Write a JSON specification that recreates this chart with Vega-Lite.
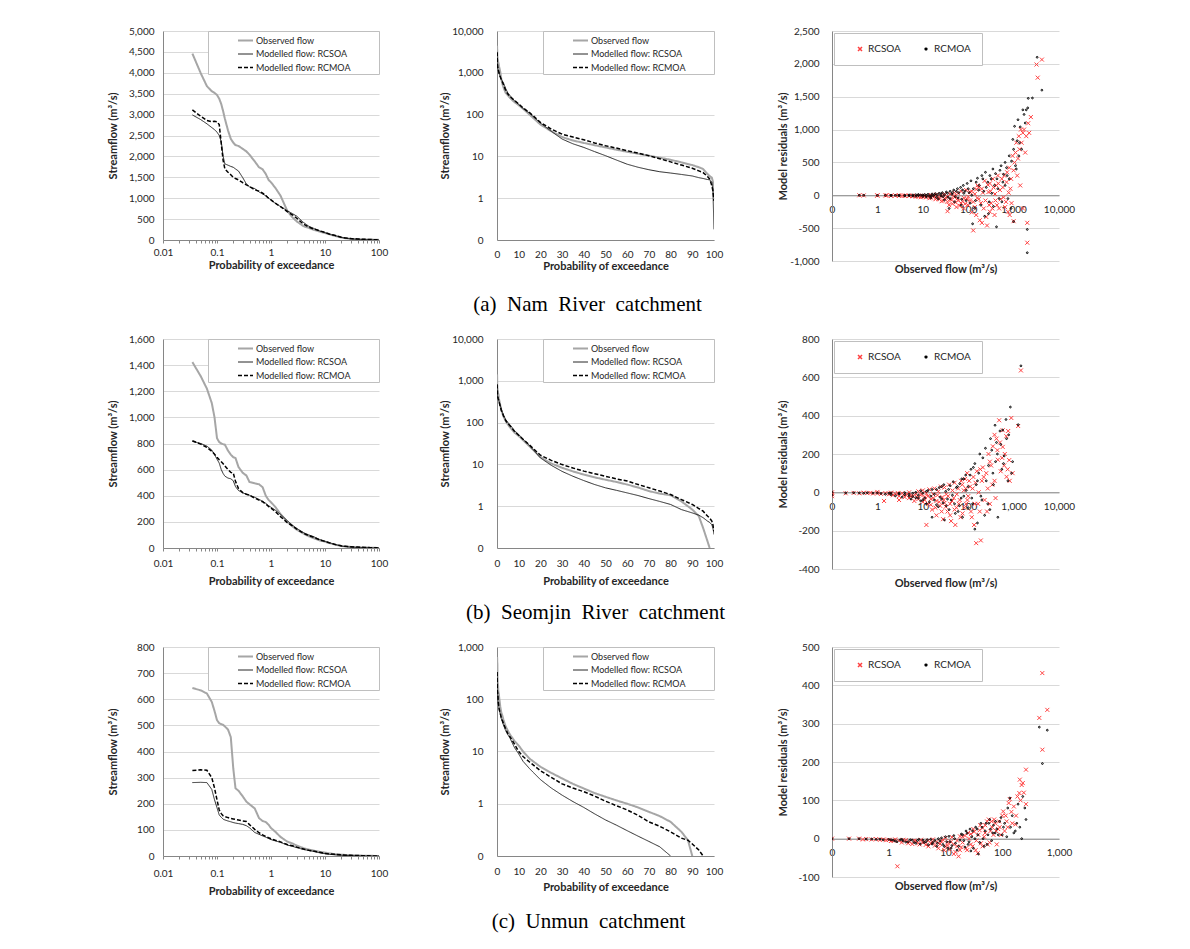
{
"$schema":"https://vega.github.io/schema/vega-lite/v6.json",
"padding":{"left":107,"top":26,"right":10,"bottom":10},
"background":"#ffffff",
"columns":3,
"spacing":{"row":78,"column":118},
"bounds":"flush",
"align":"each",
"resolve":{"scale":{"color":"independent","strokeDash":"independent","strokeWidth":"independent","shape":"independent","size":"independent"},"legend":{"color":"independent","strokeDash":"independent","strokeWidth":"independent","shape":"independent","size":"independent"}},
"datasets":{
"fdcA":[
{"p":0.035,"obs":4460,"rcsoa":2992,"rcmoa":3111},{"p":0.05,"obs":3990,"rcsoa":2880,"rcmoa":2960},{"p":0.065,"obs":3680,"rcsoa":2780,"rcmoa":2860},{"p":0.08,"obs":3560,"rcsoa":2690,"rcmoa":2830},{"p":0.09,"obs":3520,"rcsoa":2640,"rcmoa":2840},{"p":0.1,"obs":3470,"rcsoa":2580,"rcmoa":2830},{"p":0.11,"obs":3380,"rcsoa":2500,"rcmoa":2760},{"p":0.12,"obs":3250,"rcsoa":2350,"rcmoa":2300},{"p":0.13,"obs":3080,"rcsoa":2000,"rcmoa":1900},{"p":0.14,"obs":2900,"rcsoa":1820,"rcmoa":1700},{"p":0.16,"obs":2620,"rcsoa":1790,"rcmoa":1620},{"p":0.18,"obs":2420,"rcsoa":1760,"rcmoa":1560},{"p":0.2,"obs":2330,"rcsoa":1740,"rcmoa":1500},{"p":0.22,"obs":2270,"rcsoa":1700,"rcmoa":1470},{"p":0.25,"obs":2250,"rcsoa":1650,"rcmoa":1440},{"p":0.3,"obs":2180,"rcsoa":1490,"rcmoa":1370},{"p":0.35,"obs":2120,"rcsoa":1340,"rcmoa":1320},{"p":0.4,"obs":2040,"rcsoa":1270,"rcmoa":1280},{"p":0.5,"obs":1880,"rcsoa":1230,"rcmoa":1200},{"p":0.6,"obs":1740,"rcsoa":1150,"rcmoa":1170},{"p":0.7,"obs":1690,"rcsoa":1100,"rcmoa":1120},{"p":0.8,"obs":1580,"rcsoa":1060,"rcmoa":1060},{"p":0.9,"obs":1440,"rcsoa":1010,"rcmoa":1000},{"p":1,"obs":1380,"rcsoa":950,"rcmoa":960},{"p":1.2,"obs":1250,"rcsoa":880,"rcmoa":880},{"p":1.5,"obs":1060,"rcsoa":800,"rcmoa":800},{"p":2,"obs":700,"rcsoa":700,"rcmoa":680},{"p":2.5,"obs":540,"rcsoa":630,"rcmoa":600},{"p":3,"obs":445,"rcsoa":570,"rcmoa":520},{"p":4,"obs":330,"rcsoa":420,"rcmoa":380},{"p":5,"obs":290,"rcsoa":330,"rcmoa":310},{"p":6,"obs":250,"rcsoa":285,"rcmoa":270},{"p":8,"obs":200,"rcsoa":215,"rcmoa":220},{"p":10,"obs":168,"rcsoa":175,"rcmoa":180},{"p":12,"obs":138,"rcsoa":140,"rcmoa":145},{"p":15,"obs":100,"rcsoa":108,"rcmoa":112},{"p":20,"obs":58,"rcsoa":63,"rcmoa":65},{"p":25,"obs":40,"rcsoa":40,"rcmoa":45},{"p":30,"obs":29,"rcsoa":26,"rcmoa":34},{"p":35,"obs":24,"rcsoa":20,"rcmoa":29},{"p":40,"obs":21,"rcsoa":16.4,"rcmoa":25},{"p":45,"obs":18.5,"rcsoa":13,"rcmoa":21},{"p":50,"obs":16.4,"rcsoa":10.4,"rcmoa":18},{"p":55,"obs":14.5,"rcsoa":8.2,"rcmoa":15.8},{"p":60,"obs":12.9,"rcsoa":6.5,"rcmoa":13.7},{"p":65,"obs":11.6,"rcsoa":5.5,"rcmoa":12},{"p":70,"obs":10.4,"rcsoa":4.8,"rcmoa":10.4},{"p":75,"obs":9.3,"rcsoa":4.3,"rcmoa":8.8},{"p":80,"obs":8.3,"rcsoa":4.0,"rcmoa":7.4},{"p":85,"obs":7.2,"rcsoa":3.7,"rcmoa":6.2},{"p":90,"obs":6.2,"rcsoa":3.4,"rcmoa":5.2},{"p":93,"obs":5.5,"rcsoa":3.1,"rcmoa":4.5},{"p":95,"obs":5.0,"rcsoa":2.96,"rcmoa":4.1},{"p":97,"obs":3.8,"rcsoa":2.8,"rcmoa":3.3},{"p":98,"obs":3.4,"rcsoa":2.75,"rcmoa":2.9},{"p":99,"obs":3.1,"rcsoa":2.4,"rcmoa":2.0},{"p":99.5,"obs":2.5,"rcsoa":1.6,"rcmoa":1.5},{"p":100,"obs":1.0,"rcsoa":0.18,"rcmoa":0.86}
],
"fdcB":[
{"p":0.035,"obs":1423,"rcsoa":816,"rcmoa":821},{"p":0.05,"obs":1315,"rcsoa":800,"rcmoa":795},{"p":0.065,"obs":1220,"rcsoa":780,"rcmoa":770},{"p":0.08,"obs":1110,"rcsoa":750,"rcmoa":740},{"p":0.09,"obs":1000,"rcsoa":715,"rcmoa":718},{"p":0.1,"obs":840,"rcsoa":680,"rcmoa":695},{"p":0.11,"obs":811,"rcsoa":650,"rcmoa":676},{"p":0.12,"obs":800,"rcsoa":600,"rcmoa":660},{"p":0.13,"obs":795,"rcsoa":570,"rcmoa":645},{"p":0.14,"obs":791,"rcsoa":550,"rcmoa":628},{"p":0.16,"obs":745,"rcsoa":535,"rcmoa":600},{"p":0.18,"obs":715,"rcsoa":530,"rcmoa":579},{"p":0.2,"obs":695,"rcsoa":515,"rcmoa":574},{"p":0.22,"obs":689,"rcsoa":470,"rcmoa":510},{"p":0.25,"obs":620,"rcsoa":440,"rcmoa":455},{"p":0.3,"obs":575,"rcsoa":422,"rcmoa":424},{"p":0.35,"obs":555,"rcsoa":412,"rcmoa":412},{"p":0.4,"obs":505,"rcsoa":404,"rcmoa":404},{"p":0.5,"obs":495,"rcsoa":388,"rcmoa":382},{"p":0.6,"obs":488,"rcsoa":372,"rcmoa":366},{"p":0.7,"obs":465,"rcsoa":358,"rcmoa":354},{"p":0.8,"obs":400,"rcsoa":342,"rcmoa":336},{"p":0.9,"obs":368,"rcsoa":325,"rcmoa":318},{"p":1,"obs":350,"rcsoa":312,"rcmoa":305},{"p":1.2,"obs":315,"rcsoa":290,"rcmoa":280},{"p":1.5,"obs":260,"rcsoa":258,"rcmoa":240},{"p":2,"obs":200,"rcsoa":210,"rcmoa":195},{"p":2.5,"obs":165,"rcsoa":175,"rcmoa":170},{"p":3,"obs":140,"rcsoa":150,"rcmoa":145},{"p":4,"obs":110,"rcsoa":118,"rcmoa":112},{"p":5,"obs":90,"rcsoa":100,"rcmoa":95},{"p":6,"obs":77,"rcsoa":89,"rcmoa":84},{"p":8,"obs":58,"rcsoa":65,"rcmoa":62},{"p":10,"obs":48,"rcsoa":52,"rcmoa":50},{"p":12,"obs":38,"rcsoa":40,"rcmoa":40},{"p":15,"obs":27,"rcsoa":28,"rcmoa":29},{"p":20,"obs":15,"rcsoa":14.3,"rcmoa":16.6},{"p":25,"obs":10.5,"rcsoa":9.5,"rcmoa":12.5},{"p":30,"obs":8.3,"rcsoa":6.8,"rcmoa":9.9},{"p":35,"obs":6.8,"rcsoa":5.2,"rcmoa":8.2},{"p":40,"obs":5.7,"rcsoa":4.1,"rcmoa":6.9},{"p":45,"obs":4.9,"rcsoa":3.3,"rcmoa":6.0},{"p":50,"obs":4.3,"rcsoa":2.75,"rcmoa":5.2},{"p":55,"obs":3.8,"rcsoa":2.4,"rcmoa":4.5},{"p":60,"obs":3.3,"rcsoa":2.08,"rcmoa":4.0},{"p":65,"obs":2.8,"rcsoa":1.8,"rcmoa":3.3},{"p":70,"obs":2.3,"rcsoa":1.52,"rcmoa":2.75},{"p":75,"obs":2.0,"rcsoa":1.3,"rcmoa":2.3},{"p":80,"obs":1.83,"rcsoa":1.1,"rcmoa":1.9},{"p":85,"obs":1.3,"rcsoa":0.83,"rcmoa":1.44},{"p":90,"obs":0.83,"rcsoa":0.69,"rcmoa":1.1},{"p":93,"obs":0.58,"rcsoa":0.61,"rcmoa":0.88},{"p":95,"obs":0.3,"rcsoa":0.53,"rcmoa":0.76},{"p":97,"obs":0.145,"rcsoa":0.44,"rcmoa":0.58},{"p":98,"obs":0.1,"rcsoa":0.41,"rcmoa":0.52},{"p":99,"obs":0,"rcsoa":0.36,"rcmoa":0.44},{"p":99.5,"obs":0,"rcsoa":0.3,"rcmoa":0.36},{"p":100,"obs":0,"rcsoa":0.21,"rcmoa":0.25}
],
"fdcC":[
{"p":0.035,"obs":643,"rcsoa":281,"rcmoa":327},{"p":0.05,"obs":634,"rcsoa":282,"rcmoa":330},{"p":0.065,"obs":622,"rcsoa":281,"rcmoa":328},{"p":0.08,"obs":590,"rcsoa":255,"rcmoa":300},{"p":0.09,"obs":555,"rcsoa":215,"rcmoa":260},{"p":0.1,"obs":520,"rcsoa":185,"rcmoa":215},{"p":0.11,"obs":508,"rcsoa":157,"rcmoa":176},{"p":0.12,"obs":505,"rcsoa":148,"rcmoa":162},{"p":0.13,"obs":502,"rcsoa":141,"rcmoa":154},{"p":0.14,"obs":496,"rcsoa":138,"rcmoa":151},{"p":0.16,"obs":484,"rcsoa":134,"rcmoa":147},{"p":0.18,"obs":455,"rcsoa":131,"rcmoa":144},{"p":0.2,"obs":336,"rcsoa":128,"rcmoa":142},{"p":0.22,"obs":259,"rcsoa":126,"rcmoa":140},{"p":0.25,"obs":250,"rcsoa":124,"rcmoa":138},{"p":0.3,"obs":228,"rcsoa":121,"rcmoa":134},{"p":0.35,"obs":208,"rcsoa":116,"rcmoa":132},{"p":0.4,"obs":198,"rcsoa":108,"rcmoa":120},{"p":0.5,"obs":182,"rcsoa":90,"rcmoa":102},{"p":0.6,"obs":145,"rcsoa":83,"rcmoa":89},{"p":0.7,"obs":134,"rcsoa":77,"rcmoa":81},{"p":0.8,"obs":130,"rcsoa":72,"rcmoa":75},{"p":0.9,"obs":120,"rcsoa":67,"rcmoa":70},{"p":1,"obs":107,"rcsoa":63,"rcmoa":66},{"p":1.2,"obs":93,"rcsoa":58,"rcmoa":60},{"p":1.5,"obs":73,"rcsoa":52,"rcmoa":54},{"p":2,"obs":55,"rcsoa":42,"rcmoa":44},{"p":2.5,"obs":48,"rcsoa":37,"rcmoa":39},{"p":3,"obs":40,"rcsoa":32,"rcmoa":34},{"p":4,"obs":30,"rcsoa":25,"rcmoa":27},{"p":5,"obs":25,"rcsoa":21,"rcmoa":22},{"p":6,"obs":21,"rcsoa":18,"rcmoa":19},{"p":8,"obs":16,"rcsoa":12,"rcmoa":14},{"p":10,"obs":13,"rcsoa":9,"rcmoa":10},{"p":12,"obs":10,"rcsoa":6.5,"rcmoa":8},{"p":15,"obs":7.3,"rcsoa":4.7,"rcmoa":6.3},{"p":20,"obs":5.1,"rcsoa":2.9,"rcmoa":4.3},{"p":25,"obs":3.9,"rcsoa":2.0,"rcmoa":3.2},{"p":30,"obs":3.05,"rcsoa":1.46,"rcmoa":2.4},{"p":35,"obs":2.4,"rcsoa":1.1,"rcmoa":2.0},{"p":40,"obs":1.96,"rcsoa":0.85,"rcmoa":1.7},{"p":45,"obs":1.6,"rcsoa":0.64,"rcmoa":1.4},{"p":50,"obs":1.36,"rcsoa":0.49,"rcmoa":1.12},{"p":55,"obs":1.16,"rcsoa":0.39,"rcmoa":0.92},{"p":60,"obs":1.0,"rcsoa":0.305,"rcmoa":0.76},{"p":65,"obs":0.85,"rcsoa":0.24,"rcmoa":0.6},{"p":70,"obs":0.7,"rcsoa":0.19,"rcmoa":0.45},{"p":75,"obs":0.58,"rcsoa":0.15,"rcmoa":0.37},{"p":80,"obs":0.45,"rcsoa":0.1,"rcmoa":0.29},{"p":85,"obs":0.29,"rcsoa":0,"rcmoa":0.22},{"p":88,"obs":0.2,"rcsoa":0,"rcmoa":0.2},{"p":90,"obs":0.1,"rcsoa":0,"rcmoa":0.17},{"p":93,"obs":0,"rcsoa":0,"rcmoa":0.13},{"p":95,"obs":0,"rcsoa":0,"rcmoa":0.1},{"p":97,"obs":0,"rcsoa":0,"rcmoa":0},{"p":98,"obs":0,"rcsoa":0,"rcmoa":0},{"p":99,"obs":0,"rcsoa":0,"rcmoa":0},{"p":99.5,"obs":0,"rcsoa":0,"rcmoa":0},{"p":100,"obs":0,"rcsoa":0,"rcmoa":0}
],
"resA":[
{"obs":0.4,"res":0,"model":"RCSOA"},{"obs":0.5,"res":-2,"model":"RCSOA"},{"obs":1,"res":0,"model":"RCSOA"},{"obs":1,"res":-5,"model":"RCSOA"},{"obs":1.5,"res":-3,"model":"RCSOA"},{"obs":1.6,"res":0,"model":"RCSOA"},{"obs":2,"res":-5,"model":"RCSOA"},{"obs":2.5,"res":-3,"model":"RCSOA"},{"obs":3,"res":-8,"model":"RCSOA"},{"obs":3.5,"res":-5,"model":"RCSOA"},{"obs":4,"res":-10,"model":"RCSOA"},{"obs":5,"res":-12,"model":"RCSOA"},{"obs":5,"res":-3,"model":"RCSOA"},{"obs":6,"res":-15,"model":"RCSOA"},{"obs":7,"res":-8,"model":"RCSOA"},{"obs":8,"res":-20,"model":"RCSOA"},{"obs":9,"res":-10,"model":"RCSOA"},{"obs":10,"res":-25,"model":"RCSOA"},{"obs":10,"res":-5,"model":"RCSOA"},{"obs":12,"res":-30,"model":"RCSOA"},{"obs":13,"res":-10,"model":"RCSOA"},{"obs":15,"res":-35,"model":"RCSOA"},{"obs":15,"res":5,"model":"RCSOA"},{"obs":18,"res":-20,"model":"RCSOA"},{"obs":20,"res":-45,"model":"RCSOA"},{"obs":20,"res":10,"model":"RCSOA"},{"obs":23,"res":-60,"model":"RCSOA"},{"obs":25,"res":-15,"model":"RCSOA"},{"obs":28,"res":-80,"model":"RCSOA"},{"obs":30,"res":15,"model":"RCSOA"},{"obs":32,"res":-40,"model":"RCSOA"},{"obs":35,"res":-242,"model":"RCSOA"},{"obs":35,"res":-100,"model":"RCSOA"},{"obs":40,"res":-60,"model":"RCSOA"},{"obs":40,"res":20,"model":"RCSOA"},{"obs":45,"res":-130,"model":"RCSOA"},{"obs":50,"res":-30,"model":"RCSOA"},{"obs":50,"res":40,"model":"RCSOA"},{"obs":55,"res":-180,"model":"RCSOA"},{"obs":60,"res":-80,"model":"RCSOA"},{"obs":60,"res":30,"model":"RCSOA"},{"obs":70,"res":-120,"model":"RCSOA"},{"obs":70,"res":60,"model":"RCSOA"},{"obs":80,"res":-40,"model":"RCSOA"},{"obs":80,"res":-200,"model":"RCSOA"},{"obs":90,"res":80,"model":"RCSOA"},{"obs":100,"res":-150,"model":"RCSOA"},{"obs":100,"res":-20,"model":"RCSOA"},{"obs":110,"res":50,"model":"RCSOA"},{"obs":120,"res":-260,"model":"RCSOA"},{"obs":129,"res":-535,"model":"RCSOA"},{"obs":130,"res":-100,"model":"RCSOA"},{"obs":140,"res":20,"model":"RCSOA"},{"obs":150,"res":-300,"model":"RCSOA"},{"obs":160,"res":150,"model":"RCSOA"},{"obs":170,"res":-60,"model":"RCSOA"},{"obs":180,"res":-380,"model":"RCSOA"},{"obs":200,"res":-420,"model":"RCSOA"},{"obs":200,"res":100,"model":"RCSOA"},{"obs":220,"res":-200,"model":"RCSOA"},{"obs":230,"res":220,"model":"RCSOA"},{"obs":250,"res":-330,"model":"RCSOA"},{"obs":260,"res":-460,"model":"RCSOA"},{"obs":280,"res":50,"model":"RCSOA"},{"obs":300,"res":-250,"model":"RCSOA"},{"obs":300,"res":180,"model":"RCSOA"},{"obs":320,"res":-120,"model":"RCSOA"},{"obs":350,"res":250,"model":"RCSOA"},{"obs":380,"res":-300,"model":"RCSOA"},{"obs":400,"res":-80,"model":"RCSOA"},{"obs":420,"res":150,"model":"RCSOA"},{"obs":450,"res":300,"model":"RCSOA"},{"obs":480,"res":-200,"model":"RCSOA"},{"obs":500,"res":80,"model":"RCSOA"},{"obs":550,"res":250,"model":"RCSOA"},{"obs":600,"res":-30,"model":"RCSOA"},{"obs":650,"res":-180,"model":"RCSOA"},{"obs":700,"res":200,"model":"RCSOA"},{"obs":750,"res":-250,"model":"RCSOA"},{"obs":800,"res":420,"model":"RCSOA"},{"obs":850,"res":100,"model":"RCSOA"},{"obs":900,"res":-120,"model":"RCSOA"},{"obs":1000,"res":-394,"model":"RCSOA"},{"obs":1000,"res":380,"model":"RCSOA"},{"obs":1100,"res":650,"model":"RCSOA"},{"obs":1200,"res":300,"model":"RCSOA"},{"obs":1250,"res":560,"model":"RCSOA"},{"obs":1300,"res":900,"model":"RCSOA"},{"obs":1400,"res":150,"model":"RCSOA"},{"obs":1500,"res":800,"model":"RCSOA"},{"obs":1600,"res":-200,"model":"RCSOA"},{"obs":1700,"res":1000,"model":"RCSOA"},{"obs":1800,"res":650,"model":"RCSOA"},{"obs":1900,"res":900,"model":"RCSOA"},{"obs":2000,"res":-722,"model":"RCSOA"},{"obs":2000,"res":-419,"model":"RCSOA"},{"obs":2100,"res":1096,"model":"RCSOA"},{"obs":2200,"res":950,"model":"RCSOA"},{"obs":2400,"res":1190,"model":"RCSOA"},{"obs":3200,"res":1990,"model":"RCSOA"},{"obs":3400,"res":1790,"model":"RCSOA"},{"obs":4200,"res":2065,"model":"RCSOA"},
{"obs":2,"res":-8,"model":"RCSOA"},{"obs":3,"res":-2,"model":"RCSOA"},{"obs":4,"res":-4,"model":"RCSOA"},{"obs":6,"res":-6,"model":"RCSOA"},{"obs":7,"res":-20,"model":"RCSOA"},{"obs":9,"res":-30,"model":"RCSOA"},{"obs":11,"res":-15,"model":"RCSOA"},{"obs":14,"res":-45,"model":"RCSOA"},{"obs":17,"res":-10,"model":"RCSOA"},{"obs":19,"res":-60,"model":"RCSOA"},{"obs":22,"res":-25,"model":"RCSOA"},{"obs":26,"res":-90,"model":"RCSOA"},{"obs":30,"res":-50,"model":"RCSOA"},{"obs":34,"res":-20,"model":"RCSOA"},{"obs":38,"res":-150,"model":"RCSOA"},{"obs":43,"res":-70,"model":"RCSOA"},{"obs":48,"res":-10,"model":"RCSOA"},{"obs":53,"res":-110,"model":"RCSOA"},{"obs":58,"res":-50,"model":"RCSOA"},{"obs":65,"res":-160,"model":"RCSOA"},{"obs":75,"res":-90,"model":"RCSOA"},{"obs":85,"res":-130,"model":"RCSOA"},{"obs":95,"res":-60,"model":"RCSOA"},{"obs":110,"res":-80,"model":"RCSOA"},{"obs":120,"res":60,"model":"RCSOA"},{"obs":140,"res":-180,"model":"RCSOA"},{"obs":150,"res":90,"model":"RCSOA"},{"obs":160,"res":-40,"model":"RCSOA"},{"obs":170,"res":120,"model":"RCSOA"},{"obs":190,"res":-120,"model":"RCSOA"},{"obs":210,"res":40,"model":"RCSOA"},{"obs":240,"res":-80,"model":"RCSOA"},{"obs":270,"res":160,"model":"RCSOA"},{"obs":290,"res":-150,"model":"RCSOA"},{"obs":310,"res":60,"model":"RCSOA"},{"obs":340,"res":-200,"model":"RCSOA"},{"obs":360,"res":120,"model":"RCSOA"},{"obs":390,"res":20,"model":"RCSOA"},{"obs":430,"res":-150,"model":"RCSOA"},{"obs":460,"res":180,"model":"RCSOA"},{"obs":520,"res":-60,"model":"RCSOA"},{"obs":580,"res":120,"model":"RCSOA"},{"obs":620,"res":300,"model":"RCSOA"},{"obs":680,"res":-100,"model":"RCSOA"},{"obs":720,"res":350,"model":"RCSOA"},{"obs":780,"res":40,"model":"RCSOA"},{"obs":820,"res":-300,"model":"RCSOA"},{"obs":880,"res":250,"model":"RCSOA"},{"obs":950,"res":600,"model":"RCSOA"},{"obs":1050,"res":500,"model":"RCSOA"},{"obs":1150,"res":800,"model":"RCSOA"},{"obs":1350,"res":700,"model":"RCSOA"},{"obs":1450,"res":1000,"model":"RCSOA"},{"obs":1600,"res":950,"model":"RCSOA"},
{"obs":0.4,"res":0,"model":"RCMOA"},{"obs":0.5,"res":0,"model":"RCMOA"},{"obs":1,"res":-2,"model":"RCMOA"},{"obs":1.5,"res":0,"model":"RCMOA"},{"obs":2,"res":-3,"model":"RCMOA"},{"obs":2.5,"res":-1,"model":"RCMOA"},{"obs":3,"res":-5,"model":"RCMOA"},{"obs":4,"res":-8,"model":"RCMOA"},{"obs":5,"res":-5,"model":"RCMOA"},{"obs":6,"res":-10,"model":"RCMOA"},{"obs":7,"res":-15,"model":"RCMOA"},{"obs":8,"res":-5,"model":"RCMOA"},{"obs":10,"res":-18,"model":"RCMOA"},{"obs":10,"res":5,"model":"RCMOA"},{"obs":12,"res":-25,"model":"RCMOA"},{"obs":15,"res":-10,"model":"RCMOA"},{"obs":15,"res":-40,"model":"RCMOA"},{"obs":18,"res":10,"model":"RCMOA"},{"obs":20,"res":-30,"model":"RCMOA"},{"obs":22,"res":-55,"model":"RCMOA"},{"obs":25,"res":20,"model":"RCMOA"},{"obs":28,"res":-20,"model":"RCMOA"},{"obs":30,"res":-70,"model":"RCMOA"},{"obs":35,"res":30,"model":"RCMOA"},{"obs":38,"res":-200,"model":"RCMOA"},{"obs":40,"res":-50,"model":"RCMOA"},{"obs":45,"res":40,"model":"RCMOA"},{"obs":50,"res":-100,"model":"RCMOA"},{"obs":55,"res":60,"model":"RCMOA"},{"obs":60,"res":-40,"model":"RCMOA"},{"obs":70,"res":-150,"model":"RCMOA"},{"obs":75,"res":80,"model":"RCMOA"},{"obs":80,"res":30,"model":"RCMOA"},{"obs":90,"res":-80,"model":"RCMOA"},{"obs":100,"res":100,"model":"RCMOA"},{"obs":110,"res":-120,"model":"RCMOA"},{"obs":120,"res":0,"model":"RCMOA"},{"obs":125,"res":-434,"model":"RCMOA"},{"obs":140,"res":-200,"model":"RCMOA"},{"obs":150,"res":200,"model":"RCMOA"},{"obs":170,"res":80,"model":"RCMOA"},{"obs":190,"res":-150,"model":"RCMOA"},{"obs":210,"res":250,"model":"RCMOA"},{"obs":230,"res":-320,"model":"RCMOA"},{"obs":250,"res":120,"model":"RCMOA"},{"obs":280,"res":-280,"model":"RCMOA"},{"obs":300,"res":300,"model":"RCMOA"},{"obs":330,"res":30,"model":"RCMOA"},{"obs":360,"res":-170,"model":"RCMOA"},{"obs":400,"res":330,"model":"RCMOA"},{"obs":420,"res":-480,"model":"RCMOA"},{"obs":450,"res":100,"model":"RCMOA"},{"obs":500,"res":380,"model":"RCMOA"},{"obs":550,"res":-100,"model":"RCMOA"},{"obs":600,"res":320,"model":"RCMOA"},{"obs":650,"res":150,"model":"RCMOA"},{"obs":700,"res":420,"model":"RCMOA"},{"obs":750,"res":-50,"model":"RCMOA"},{"obs":800,"res":250,"model":"RCMOA"},{"obs":900,"res":520,"model":"RCMOA"},{"obs":1000,"res":-400,"model":"RCMOA"},{"obs":1000,"res":700,"model":"RCMOA"},{"obs":1100,"res":450,"model":"RCMOA"},{"obs":1200,"res":830,"model":"RCMOA"},{"obs":1300,"res":600,"model":"RCMOA"},{"obs":1400,"res":1040,"model":"RCMOA"},{"obs":1500,"res":700,"model":"RCMOA"},{"obs":1700,"res":1230,"model":"RCMOA"},{"obs":1900,"res":1300,"model":"RCMOA"},{"obs":2000,"res":-874,"model":"RCMOA"},{"obs":2000,"res":-520,"model":"RCMOA"},{"obs":2050,"res":1330,"model":"RCMOA"},{"obs":2100,"res":1475,"model":"RCMOA"},{"obs":2600,"res":1480,"model":"RCMOA"},{"obs":3300,"res":2100,"model":"RCMOA"},{"obs":4200,"res":1600,"model":"RCMOA"},
{"obs":2,"res":0,"model":"RCMOA"},{"obs":3,"res":2,"model":"RCMOA"},{"obs":4,"res":0,"model":"RCMOA"},{"obs":5,"res":5,"model":"RCMOA"},{"obs":6,"res":3,"model":"RCMOA"},{"obs":7,"res":8,"model":"RCMOA"},{"obs":8,"res":12,"model":"RCMOA"},{"obs":9,"res":2,"model":"RCMOA"},{"obs":11,"res":10,"model":"RCMOA"},{"obs":12,"res":-5,"model":"RCMOA"},{"obs":13,"res":15,"model":"RCMOA"},{"obs":14,"res":-12,"model":"RCMOA"},{"obs":16,"res":20,"model":"RCMOA"},{"obs":17,"res":-8,"model":"RCMOA"},{"obs":19,"res":25,"model":"RCMOA"},{"obs":21,"res":5,"model":"RCMOA"},{"obs":23,"res":30,"model":"RCMOA"},{"obs":25,"res":-10,"model":"RCMOA"},{"obs":27,"res":40,"model":"RCMOA"},{"obs":30,"res":10,"model":"RCMOA"},{"obs":33,"res":50,"model":"RCMOA"},{"obs":36,"res":-30,"model":"RCMOA"},{"obs":40,"res":60,"model":"RCMOA"},{"obs":44,"res":15,"model":"RCMOA"},{"obs":48,"res":80,"model":"RCMOA"},{"obs":52,"res":-20,"model":"RCMOA"},{"obs":58,"res":100,"model":"RCMOA"},{"obs":62,"res":40,"model":"RCMOA"},{"obs":68,"res":120,"model":"RCMOA"},{"obs":72,"res":-60,"model":"RCMOA"},{"obs":78,"res":150,"model":"RCMOA"},{"obs":85,"res":60,"model":"RCMOA"},{"obs":95,"res":180,"model":"RCMOA"},{"obs":105,"res":40,"model":"RCMOA"},{"obs":115,"res":220,"model":"RCMOA"},{"obs":130,"res":100,"model":"RCMOA"},{"obs":145,"res":-80,"model":"RCMOA"},{"obs":160,"res":260,"model":"RCMOA"},{"obs":175,"res":150,"model":"RCMOA"},{"obs":200,"res":300,"model":"RCMOA"},{"obs":220,"res":60,"model":"RCMOA"},{"obs":240,"res":350,"model":"RCMOA"},{"obs":270,"res":200,"model":"RCMOA"},{"obs":290,"res":-100,"model":"RCMOA"},{"obs":320,"res":250,"model":"RCMOA"},{"obs":350,"res":400,"model":"RCMOA"},{"obs":380,"res":150,"model":"RCMOA"},{"obs":430,"res":250,"model":"RCMOA"},{"obs":480,"res":-50,"model":"RCMOA"},{"obs":530,"res":450,"model":"RCMOA"},{"obs":580,"res":200,"model":"RCMOA"},{"obs":650,"res":500,"model":"RCMOA"},{"obs":720,"res":300,"model":"RCMOA"},{"obs":800,"res":600,"model":"RCMOA"},{"obs":880,"res":-200,"model":"RCMOA"},{"obs":960,"res":850,"model":"RCMOA"},{"obs":1050,"res":1050,"model":"RCMOA"},{"obs":1150,"res":400,"model":"RCMOA"},{"obs":1250,"res":1150,"model":"RCMOA"},{"obs":1350,"res":800,"model":"RCMOA"},{"obs":1600,"res":1300,"model":"RCMOA"},{"obs":1800,"res":1100,"model":"RCMOA"}
],
"resB":[
{"obs":0.1,"res":0,"model":"RCSOA"},{"obs":0.1,"res":-10,"model":"RCSOA"},{"obs":0.1,"res":-20,"model":"RCSOA"},{"obs":0.2,"res":-5,"model":"RCSOA"},{"obs":0.3,"res":-3,"model":"RCSOA"},{"obs":0.4,"res":-5,"model":"RCSOA"},{"obs":0.5,"res":-2,"model":"RCSOA"},{"obs":0.6,"res":-4,"model":"RCSOA"},{"obs":0.7,"res":-3,"model":"RCSOA"},{"obs":0.8,"res":-6,"model":"RCSOA"},{"obs":1,"res":-5,"model":"RCSOA"},{"obs":1,"res":2,"model":"RCSOA"},{"obs":1.2,"res":-8,"model":"RCSOA"},{"obs":1.4,"res":-45,"model":"RCSOA"},{"obs":1.5,"res":-4,"model":"RCSOA"},{"obs":1.8,"res":-10,"model":"RCSOA"},{"obs":2,"res":-2,"model":"RCSOA"},{"obs":2.2,"res":-15,"model":"RCSOA"},{"obs":2.5,"res":-8,"model":"RCSOA"},{"obs":3,"res":-20,"model":"RCSOA"},{"obs":3,"res":-40,"model":"RCSOA"},{"obs":3.5,"res":-5,"model":"RCSOA"},{"obs":4,"res":-25,"model":"RCSOA"},{"obs":4.5,"res":-10,"model":"RCSOA"},{"obs":5,"res":-30,"model":"RCSOA"},{"obs":5,"res":0,"model":"RCSOA"},{"obs":6,"res":-20,"model":"RCSOA"},{"obs":6.5,"res":-45,"model":"RCSOA"},{"obs":7,"res":-8,"model":"RCSOA"},{"obs":8,"res":-35,"model":"RCSOA"},{"obs":8,"res":5,"model":"RCSOA"},{"obs":9,"res":-15,"model":"RCSOA"},{"obs":10,"res":-50,"model":"RCSOA"},{"obs":10,"res":10,"model":"RCSOA"},{"obs":11,"res":-25,"model":"RCSOA"},{"obs":12,"res":-170,"model":"RCSOA"},{"obs":12,"res":-5,"model":"RCSOA"},{"obs":13,"res":-60,"model":"RCSOA"},{"obs":14,"res":15,"model":"RCSOA"},{"obs":15,"res":-35,"model":"RCSOA"},{"obs":16,"res":-90,"model":"RCSOA"},{"obs":17,"res":-10,"model":"RCSOA"},{"obs":18,"res":20,"model":"RCSOA"},{"obs":20,"res":-45,"model":"RCSOA"},{"obs":20,"res":-120,"model":"RCSOA"},{"obs":22,"res":5,"model":"RCSOA"},{"obs":24,"res":-70,"model":"RCSOA"},{"obs":25,"res":30,"model":"RCSOA"},{"obs":27,"res":-25,"model":"RCSOA"},{"obs":28,"res":-140,"model":"RCSOA"},{"obs":30,"res":-55,"model":"RCSOA"},{"obs":30,"res":25,"model":"RCSOA"},{"obs":33,"res":-10,"model":"RCSOA"},{"obs":35,"res":-100,"model":"RCSOA"},{"obs":38,"res":40,"model":"RCSOA"},{"obs":40,"res":-60,"model":"RCSOA"},{"obs":42,"res":-150,"model":"RCSOA"},{"obs":45,"res":10,"model":"RCSOA"},{"obs":48,"res":-30,"model":"RCSOA"},{"obs":50,"res":50,"model":"RCSOA"},{"obs":52,"res":-170,"model":"RCSOA"},{"obs":55,"res":-80,"model":"RCSOA"},{"obs":60,"res":20,"model":"RCSOA"},{"obs":65,"res":-40,"model":"RCSOA"},{"obs":70,"res":60,"model":"RCSOA"},{"obs":75,"res":-110,"model":"RCSOA"},{"obs":80,"res":10,"model":"RCSOA"},{"obs":85,"res":70,"model":"RCSOA"},{"obs":90,"res":-60,"model":"RCSOA"},{"obs":95,"res":100,"model":"RCSOA"},{"obs":100,"res":-20,"model":"RCSOA"},{"obs":110,"res":30,"model":"RCSOA"},{"obs":120,"res":-130,"model":"RCSOA"},{"obs":130,"res":80,"model":"RCSOA"},{"obs":140,"res":-60,"model":"RCSOA"},{"obs":150,"res":-265,"model":"RCSOA"},{"obs":155,"res":110,"model":"RCSOA"},{"obs":170,"res":0,"model":"RCSOA"},{"obs":180,"res":-100,"model":"RCSOA"},{"obs":190,"res":-251,"model":"RCSOA"},{"obs":200,"res":60,"model":"RCSOA"},{"obs":210,"res":130,"model":"RCSOA"},{"obs":230,"res":-40,"model":"RCSOA"},{"obs":250,"res":100,"model":"RCSOA"},{"obs":270,"res":20,"model":"RCSOA"},{"obs":280,"res":200,"model":"RCSOA"},{"obs":300,"res":-60,"model":"RCSOA"},{"obs":320,"res":140,"model":"RCSOA"},{"obs":350,"res":240,"model":"RCSOA"},{"obs":380,"res":60,"model":"RCSOA"},{"obs":400,"res":-30,"model":"RCSOA"},{"obs":420,"res":280,"model":"RCSOA"},{"obs":450,"res":170,"model":"RCSOA"},{"obs":480,"res":376,"model":"RCSOA"},{"obs":520,"res":110,"model":"RCSOA"},{"obs":575,"res":324,"model":"RCSOA"},{"obs":575,"res":237,"model":"RCSOA"},{"obs":620,"res":140,"model":"RCSOA"},{"obs":690,"res":293,"model":"RCSOA"},{"obs":700,"res":81,"model":"RCSOA"},{"obs":740,"res":120,"model":"RCSOA"},{"obs":800,"res":168,"model":"RCSOA"},{"obs":890,"res":388,"model":"RCSOA"},{"obs":950,"res":100,"model":"RCSOA"},{"obs":1260,"res":346,"model":"RCSOA"},{"obs":1450,"res":636,"model":"RCSOA"},
{"obs":2,"res":-5,"model":"RCSOA"},{"obs":2.8,"res":-3,"model":"RCSOA"},{"obs":3.8,"res":-12,"model":"RCSOA"},{"obs":5.5,"res":-18,"model":"RCSOA"},{"obs":7.5,"res":-25,"model":"RCSOA"},{"obs":9.5,"res":-10,"model":"RCSOA"},{"obs":11,"res":-40,"model":"RCSOA"},{"obs":13,"res":-20,"model":"RCSOA"},{"obs":15,"res":-65,"model":"RCSOA"},{"obs":17,"res":-30,"model":"RCSOA"},{"obs":19,"res":-80,"model":"RCSOA"},{"obs":21,"res":-15,"model":"RCSOA"},{"obs":23,"res":-50,"model":"RCSOA"},{"obs":26,"res":-100,"model":"RCSOA"},{"obs":29,"res":-40,"model":"RCSOA"},{"obs":32,"res":-75,"model":"RCSOA"},{"obs":36,"res":-20,"model":"RCSOA"},{"obs":40,"res":-120,"model":"RCSOA"},{"obs":44,"res":-45,"model":"RCSOA"},{"obs":50,"res":-90,"model":"RCSOA"},{"obs":56,"res":-10,"model":"RCSOA"},{"obs":62,"res":-60,"model":"RCSOA"},{"obs":68,"res":-130,"model":"RCSOA"},{"obs":74,"res":40,"model":"RCSOA"},{"obs":82,"res":-80,"model":"RCSOA"},{"obs":88,"res":20,"model":"RCSOA"},{"obs":96,"res":-40,"model":"RCSOA"},{"obs":105,"res":60,"model":"RCSOA"},{"obs":115,"res":-100,"model":"RCSOA"},{"obs":125,"res":20,"model":"RCSOA"},{"obs":135,"res":-170,"model":"RCSOA"},{"obs":145,"res":50,"model":"RCSOA"},{"obs":165,"res":-60,"model":"RCSOA"},{"obs":185,"res":120,"model":"RCSOA"},{"obs":220,"res":80,"model":"RCSOA"},{"obs":260,"res":-100,"model":"RCSOA"},{"obs":300,"res":160,"model":"RCSOA"},{"obs":340,"res":40,"model":"RCSOA"},{"obs":380,"res":300,"model":"RCSOA"},{"obs":440,"res":220,"model":"RCSOA"},{"obs":500,"res":260,"model":"RCSOA"},{"obs":560,"res":180,"model":"RCSOA"},{"obs":640,"res":200,"model":"RCSOA"},{"obs":760,"res":320,"model":"RCSOA"},{"obs":820,"res":60,"model":"RCSOA"},
{"obs":0.1,"res":0,"model":"RCMOA"},{"obs":0.1,"res":-15,"model":"RCMOA"},{"obs":0.2,"res":-3,"model":"RCMOA"},{"obs":0.3,"res":-2,"model":"RCMOA"},{"obs":0.4,"res":-3,"model":"RCMOA"},{"obs":0.5,"res":-5,"model":"RCMOA"},{"obs":0.6,"res":-2,"model":"RCMOA"},{"obs":0.8,"res":-4,"model":"RCMOA"},{"obs":1,"res":-3,"model":"RCMOA"},{"obs":1.2,"res":-6,"model":"RCMOA"},{"obs":1.5,"res":-10,"model":"RCMOA"},{"obs":1.8,"res":-5,"model":"RCMOA"},{"obs":2,"res":-12,"model":"RCMOA"},{"obs":2.5,"res":-18,"model":"RCMOA"},{"obs":3,"res":-5,"model":"RCMOA"},{"obs":3.5,"res":-25,"model":"RCMOA"},{"obs":4,"res":-12,"model":"RCMOA"},{"obs":5,"res":-20,"model":"RCMOA"},{"obs":5.5,"res":-35,"model":"RCMOA"},{"obs":6,"res":-5,"model":"RCMOA"},{"obs":7,"res":-28,"model":"RCMOA"},{"obs":8,"res":-15,"model":"RCMOA"},{"obs":9,"res":-45,"model":"RCMOA"},{"obs":10,"res":-5,"model":"RCMOA"},{"obs":11,"res":-30,"model":"RCMOA"},{"obs":12,"res":-60,"model":"RCMOA"},{"obs":13,"res":10,"model":"RCMOA"},{"obs":15,"res":-20,"model":"RCMOA"},{"obs":16,"res":-130,"model":"RCMOA"},{"obs":18,"res":-40,"model":"RCMOA"},{"obs":20,"res":15,"model":"RCMOA"},{"obs":22,"res":-75,"model":"RCMOA"},{"obs":24,"res":-25,"model":"RCMOA"},{"obs":26,"res":30,"model":"RCMOA"},{"obs":28,"res":-55,"model":"RCMOA"},{"obs":30,"res":-144,"model":"RCMOA"},{"obs":32,"res":5,"model":"RCMOA"},{"obs":35,"res":-35,"model":"RCMOA"},{"obs":38,"res":-90,"model":"RCMOA"},{"obs":40,"res":35,"model":"RCMOA"},{"obs":45,"res":-15,"model":"RCMOA"},{"obs":50,"res":-60,"model":"RCMOA"},{"obs":55,"res":25,"model":"RCMOA"},{"obs":60,"res":-100,"model":"RCMOA"},{"obs":65,"res":45,"model":"RCMOA"},{"obs":70,"res":-30,"model":"RCMOA"},{"obs":75,"res":-130,"model":"RCMOA"},{"obs":80,"res":70,"model":"RCMOA"},{"obs":90,"res":10,"model":"RCMOA"},{"obs":100,"res":-80,"model":"RCMOA"},{"obs":110,"res":90,"model":"RCMOA"},{"obs":120,"res":-30,"model":"RCMOA"},{"obs":130,"res":130,"model":"RCMOA"},{"obs":140,"res":-192,"model":"RCMOA"},{"obs":150,"res":40,"model":"RCMOA"},{"obs":160,"res":-160,"model":"RCMOA"},{"obs":170,"res":100,"model":"RCMOA"},{"obs":190,"res":-20,"model":"RCMOA"},{"obs":210,"res":180,"model":"RCMOA"},{"obs":230,"res":-120,"model":"RCMOA"},{"obs":250,"res":60,"model":"RCMOA"},{"obs":280,"res":140,"model":"RCMOA"},{"obs":300,"res":-90,"model":"RCMOA"},{"obs":330,"res":220,"model":"RCMOA"},{"obs":360,"res":40,"model":"RCMOA"},{"obs":400,"res":160,"model":"RCMOA"},{"obs":420,"res":260,"model":"RCMOA"},{"obs":450,"res":-130,"model":"RCMOA"},{"obs":500,"res":320,"model":"RCMOA"},{"obs":550,"res":120,"model":"RCMOA"},{"obs":575,"res":325,"model":"RCMOA"},{"obs":620,"res":190,"model":"RCMOA"},{"obs":700,"res":280,"model":"RCMOA"},{"obs":750,"res":60,"model":"RCMOA"},{"obs":850,"res":445,"model":"RCMOA"},{"obs":950,"res":160,"model":"RCMOA"},{"obs":1260,"res":353,"model":"RCMOA"},{"obs":1450,"res":660,"model":"RCMOA"},
{"obs":2,"res":-3,"model":"RCMOA"},{"obs":3,"res":-8,"model":"RCMOA"},{"obs":4,"res":-2,"model":"RCMOA"},{"obs":5,"res":-10,"model":"RCMOA"},{"obs":6,"res":-22,"model":"RCMOA"},{"obs":7,"res":0,"model":"RCMOA"},{"obs":8,"res":-30,"model":"RCMOA"},{"obs":9,"res":8,"model":"RCMOA"},{"obs":10,"res":-40,"model":"RCMOA"},{"obs":12,"res":5,"model":"RCMOA"},{"obs":14,"res":-50,"model":"RCMOA"},{"obs":16,"res":15,"model":"RCMOA"},{"obs":18,"res":-10,"model":"RCMOA"},{"obs":20,"res":-65,"model":"RCMOA"},{"obs":23,"res":25,"model":"RCMOA"},{"obs":26,"res":-35,"model":"RCMOA"},{"obs":29,"res":40,"model":"RCMOA"},{"obs":33,"res":-70,"model":"RCMOA"},{"obs":37,"res":15,"model":"RCMOA"},{"obs":42,"res":-40,"model":"RCMOA"},{"obs":47,"res":55,"model":"RCMOA"},{"obs":52,"res":-110,"model":"RCMOA"},{"obs":58,"res":30,"model":"RCMOA"},{"obs":64,"res":-70,"model":"RCMOA"},{"obs":72,"res":70,"model":"RCMOA"},{"obs":80,"res":-20,"model":"RCMOA"},{"obs":88,"res":90,"model":"RCMOA"},{"obs":100,"res":30,"model":"RCMOA"},{"obs":115,"res":120,"model":"RCMOA"},{"obs":125,"res":-60,"model":"RCMOA"},{"obs":140,"res":150,"model":"RCMOA"},{"obs":160,"res":60,"model":"RCMOA"},{"obs":180,"res":200,"model":"RCMOA"},{"obs":200,"res":-40,"model":"RCMOA"},{"obs":240,"res":230,"model":"RCMOA"},{"obs":270,"res":-60,"model":"RCMOA"},{"obs":310,"res":280,"model":"RCMOA"},{"obs":350,"res":100,"model":"RCMOA"},{"obs":390,"res":350,"model":"RCMOA"},{"obs":440,"res":200,"model":"RCMOA"},{"obs":520,"res":250,"model":"RCMOA"},{"obs":600,"res":150,"model":"RCMOA"},{"obs":680,"res":380,"model":"RCMOA"},{"obs":780,"res":300,"model":"RCMOA"},{"obs":900,"res":100,"model":"RCMOA"}
],
"resC":[
{"obs":0.1,"res":0,"model":"RCSOA"},{"obs":0.2,"res":0,"model":"RCSOA"},{"obs":0.3,"res":0,"model":"RCSOA"},{"obs":0.35,"res":-2,"model":"RCSOA"},{"obs":0.4,"res":-1,"model":"RCSOA"},{"obs":0.5,"res":-2,"model":"RCSOA"},{"obs":0.6,"res":-1,"model":"RCSOA"},{"obs":0.7,"res":-3,"model":"RCSOA"},{"obs":0.8,"res":-2,"model":"RCSOA"},{"obs":0.9,"res":-4,"model":"RCSOA"},{"obs":1,"res":-3,"model":"RCSOA"},{"obs":1.1,"res":-6,"model":"RCSOA"},{"obs":1.3,"res":-2,"model":"RCSOA"},{"obs":1.42,"res":-72,"model":"RCSOA"},{"obs":1.5,"res":-5,"model":"RCSOA"},{"obs":1.7,"res":-10,"model":"RCSOA"},{"obs":2,"res":-4,"model":"RCSOA"},{"obs":2.3,"res":-8,"model":"RCSOA"},{"obs":2.6,"res":-14,"model":"RCSOA"},{"obs":3,"res":-6,"model":"RCSOA"},{"obs":3.3,"res":-12,"model":"RCSOA"},{"obs":3.7,"res":-3,"model":"RCSOA"},{"obs":4,"res":-10,"model":"RCSOA"},{"obs":4.5,"res":-16,"model":"RCSOA"},{"obs":5,"res":-5,"model":"RCSOA"},{"obs":5.5,"res":-12,"model":"RCSOA"},{"obs":6,"res":-2,"model":"RCSOA"},{"obs":6.5,"res":-18,"model":"RCSOA"},{"obs":7,"res":-8,"model":"RCSOA"},{"obs":8,"res":-14,"model":"RCSOA"},{"obs":9,"res":-3,"model":"RCSOA"},{"obs":10,"res":-20,"model":"RCSOA"},{"obs":10,"res":2,"model":"RCSOA"},{"obs":11,"res":-10,"model":"RCSOA"},{"obs":12,"res":-28,"model":"RCSOA"},{"obs":13,"res":4,"model":"RCSOA"},{"obs":14,"res":-15,"model":"RCSOA"},{"obs":15,"res":-35,"model":"RCSOA"},{"obs":16,"res":-5,"model":"RCSOA"},{"obs":17,"res":-46,"model":"RCSOA"},{"obs":18,"res":6,"model":"RCSOA"},{"obs":19,"res":-22,"model":"RCSOA"},{"obs":20,"res":-10,"model":"RCSOA"},{"obs":22,"res":8,"model":"RCSOA"},{"obs":24,"res":-30,"model":"RCSOA"},{"obs":26,"res":0,"model":"RCSOA"},{"obs":28,"res":12,"model":"RCSOA"},{"obs":30,"res":-20,"model":"RCSOA"},{"obs":32,"res":18,"model":"RCSOA"},{"obs":35,"res":-5,"model":"RCSOA"},{"obs":37,"res":-38,"model":"RCSOA"},{"obs":40,"res":22,"model":"RCSOA"},{"obs":42,"res":-12,"model":"RCSOA"},{"obs":45,"res":28,"model":"RCSOA"},{"obs":48,"res":5,"model":"RCSOA"},{"obs":50,"res":35,"model":"RCSOA"},{"obs":55,"res":-15,"model":"RCSOA"},{"obs":58,"res":50,"model":"RCSOA"},{"obs":62,"res":20,"model":"RCSOA"},{"obs":65,"res":45,"model":"RCSOA"},{"obs":70,"res":10,"model":"RCSOA"},{"obs":75,"res":40,"model":"RCSOA"},{"obs":80,"res":-15,"model":"RCSOA"},{"obs":85,"res":25,"model":"RCSOA"},{"obs":90,"res":30,"model":"RCSOA"},{"obs":100,"res":60,"model":"RCSOA"},{"obs":104,"res":71,"model":"RCSOA"},{"obs":110,"res":20,"model":"RCSOA"},{"obs":120,"res":45,"model":"RCSOA"},{"obs":130,"res":93,"model":"RCSOA"},{"obs":136,"res":103,"model":"RCSOA"},{"obs":150,"res":40,"model":"RCSOA"},{"obs":160,"res":84,"model":"RCSOA"},{"obs":170,"res":37,"model":"RCSOA"},{"obs":185,"res":110,"model":"RCSOA"},{"obs":200,"res":119,"model":"RCSOA"},{"obs":204,"res":154,"model":"RCSOA"},{"obs":220,"res":140,"model":"RCSOA"},{"obs":230,"res":145,"model":"RCSOA"},{"obs":262,"res":180,"model":"RCSOA"},{"obs":262,"res":90,"model":"RCSOA"},{"obs":450,"res":315,"model":"RCSOA"},{"obs":508,"res":432,"model":"RCSOA"},{"obs":510,"res":232,"model":"RCSOA"},{"obs":622,"res":336,"model":"RCSOA"},
{"obs":1.2,"res":-5,"model":"RCSOA"},{"obs":1.8,"res":-3,"model":"RCSOA"},{"obs":2.2,"res":-12,"model":"RCSOA"},{"obs":2.8,"res":-5,"model":"RCSOA"},{"obs":3.5,"res":-15,"model":"RCSOA"},{"obs":4.2,"res":-8,"model":"RCSOA"},{"obs":5,"res":-20,"model":"RCSOA"},{"obs":6,"res":-10,"model":"RCSOA"},{"obs":7.5,"res":-25,"model":"RCSOA"},{"obs":8.5,"res":-6,"model":"RCSOA"},{"obs":9.5,"res":-30,"model":"RCSOA"},{"obs":11,"res":-18,"model":"RCSOA"},{"obs":12.5,"res":-8,"model":"RCSOA"},{"obs":14,"res":-40,"model":"RCSOA"},{"obs":16,"res":-20,"model":"RCSOA"},{"obs":18,"res":-30,"model":"RCSOA"},{"obs":20,"res":5,"model":"RCSOA"},{"obs":23,"res":-25,"model":"RCSOA"},{"obs":25,"res":15,"model":"RCSOA"},{"obs":28,"res":-15,"model":"RCSOA"},{"obs":31,"res":25,"model":"RCSOA"},{"obs":34,"res":-30,"model":"RCSOA"},{"obs":38,"res":10,"model":"RCSOA"},{"obs":41,"res":35,"model":"RCSOA"},{"obs":45,"res":-20,"model":"RCSOA"},{"obs":50,"res":15,"model":"RCSOA"},{"obs":54,"res":45,"model":"RCSOA"},{"obs":60,"res":-10,"model":"RCSOA"},{"obs":66,"res":30,"model":"RCSOA"},{"obs":72,"res":50,"model":"RCSOA"},{"obs":78,"res":20,"model":"RCSOA"},{"obs":88,"res":45,"model":"RCSOA"},{"obs":95,"res":10,"model":"RCSOA"},{"obs":115,"res":60,"model":"RCSOA"},{"obs":125,"res":30,"model":"RCSOA"},{"obs":145,"res":70,"model":"RCSOA"},{"obs":175,"res":60,"model":"RCSOA"},{"obs":210,"res":100,"model":"RCSOA"},{"obs":240,"res":120,"model":"RCSOA"},
{"obs":0.1,"res":0,"model":"RCMOA"},{"obs":0.2,"res":0,"model":"RCMOA"},{"obs":0.3,"res":0,"model":"RCMOA"},{"obs":0.4,"res":-1,"model":"RCMOA"},{"obs":0.5,"res":-1,"model":"RCMOA"},{"obs":0.6,"res":-2,"model":"RCMOA"},{"obs":0.7,"res":-1,"model":"RCMOA"},{"obs":0.8,"res":-3,"model":"RCMOA"},{"obs":1,"res":-2,"model":"RCMOA"},{"obs":1.2,"res":-4,"model":"RCMOA"},{"obs":1.4,"res":-8,"model":"RCMOA"},{"obs":1.6,"res":-3,"model":"RCMOA"},{"obs":1.8,"res":-6,"model":"RCMOA"},{"obs":2,"res":-9,"model":"RCMOA"},{"obs":2.4,"res":-3,"model":"RCMOA"},{"obs":2.8,"res":-10,"model":"RCMOA"},{"obs":3.2,"res":-5,"model":"RCMOA"},{"obs":3.6,"res":-14,"model":"RCMOA"},{"obs":4,"res":-4,"model":"RCMOA"},{"obs":4.5,"res":-8,"model":"RCMOA"},{"obs":5,"res":-16,"model":"RCMOA"},{"obs":5.5,"res":-2,"model":"RCMOA"},{"obs":6,"res":-10,"model":"RCMOA"},{"obs":7,"res":-20,"model":"RCMOA"},{"obs":7.5,"res":0,"model":"RCMOA"},{"obs":8,"res":-6,"model":"RCMOA"},{"obs":9,"res":-15,"model":"RCMOA"},{"obs":10,"res":5,"model":"RCMOA"},{"obs":11,"res":-25,"model":"RCMOA"},{"obs":12,"res":-8,"model":"RCMOA"},{"obs":13,"res":-18,"model":"RCMOA"},{"obs":14,"res":8,"model":"RCMOA"},{"obs":15,"res":-12,"model":"RCMOA"},{"obs":16,"res":-30,"model":"RCMOA"},{"obs":18,"res":-4,"model":"RCMOA"},{"obs":20,"res":10,"model":"RCMOA"},{"obs":22,"res":-22,"model":"RCMOA"},{"obs":24,"res":14,"model":"RCMOA"},{"obs":26,"res":-8,"model":"RCMOA"},{"obs":28,"res":-32,"model":"RCMOA"},{"obs":30,"res":20,"model":"RCMOA"},{"obs":33,"res":0,"model":"RCMOA"},{"obs":36,"res":25,"model":"RCMOA"},{"obs":38,"res":-40,"model":"RCMOA"},{"obs":40,"res":-10,"model":"RCMOA"},{"obs":44,"res":30,"model":"RCMOA"},{"obs":48,"res":-20,"model":"RCMOA"},{"obs":52,"res":40,"model":"RCMOA"},{"obs":56,"res":10,"model":"RCMOA"},{"obs":60,"res":50,"model":"RCMOA"},{"obs":65,"res":-5,"model":"RCMOA"},{"obs":70,"res":35,"model":"RCMOA"},{"obs":75,"res":15,"model":"RCMOA"},{"obs":80,"res":25,"model":"RCMOA"},{"obs":90,"res":45,"model":"RCMOA"},{"obs":100,"res":10,"model":"RCMOA"},{"obs":110,"res":40,"model":"RCMOA"},{"obs":120,"res":5,"model":"RCMOA"},{"obs":136,"res":106,"model":"RCMOA"},{"obs":140,"res":30,"model":"RCMOA"},{"obs":160,"res":15,"model":"RCMOA"},{"obs":180,"res":40,"model":"RCMOA"},{"obs":204,"res":30,"model":"RCMOA"},{"obs":220,"res":0,"model":"RCMOA"},{"obs":262,"res":50,"model":"RCMOA"},{"obs":450,"res":291,"model":"RCMOA"},{"obs":510,"res":196,"model":"RCMOA"},{"obs":622,"res":283,"model":"RCMOA"},
{"obs":1.1,"res":-3,"model":"RCMOA"},{"obs":1.3,"res":-6,"model":"RCMOA"},{"obs":1.7,"res":-2,"model":"RCMOA"},{"obs":2.2,"res":-8,"model":"RCMOA"},{"obs":2.6,"res":-4,"model":"RCMOA"},{"obs":3,"res":-12,"model":"RCMOA"},{"obs":3.4,"res":-2,"model":"RCMOA"},{"obs":4.2,"res":-10,"model":"RCMOA"},{"obs":4.8,"res":-3,"model":"RCMOA"},{"obs":5.8,"res":-14,"model":"RCMOA"},{"obs":6.5,"res":-5,"model":"RCMOA"},{"obs":7.2,"res":-12,"model":"RCMOA"},{"obs":8.5,"res":2,"model":"RCMOA"},{"obs":9.5,"res":-20,"model":"RCMOA"},{"obs":10.5,"res":-8,"model":"RCMOA"},{"obs":11.5,"res":6,"model":"RCMOA"},{"obs":12.5,"res":-25,"model":"RCMOA"},{"obs":14.5,"res":0,"model":"RCMOA"},{"obs":17,"res":-20,"model":"RCMOA"},{"obs":19,"res":12,"model":"RCMOA"},{"obs":21,"res":-5,"model":"RCMOA"},{"obs":23,"res":20,"model":"RCMOA"},{"obs":25,"res":-15,"model":"RCMOA"},{"obs":27,"res":25,"model":"RCMOA"},{"obs":29,"res":5,"model":"RCMOA"},{"obs":31,"res":-25,"model":"RCMOA"},{"obs":34,"res":30,"model":"RCMOA"},{"obs":37,"res":10,"model":"RCMOA"},{"obs":42,"res":40,"model":"RCMOA"},{"obs":46,"res":0,"model":"RCMOA"},{"obs":50,"res":20,"model":"RCMOA"},{"obs":54,"res":-15,"model":"RCMOA"},{"obs":58,"res":40,"model":"RCMOA"},{"obs":62,"res":25,"model":"RCMOA"},{"obs":68,"res":15,"model":"RCMOA"},{"obs":76,"res":45,"model":"RCMOA"},{"obs":85,"res":10,"model":"RCMOA"},{"obs":95,"res":55,"model":"RCMOA"},{"obs":105,"res":30,"model":"RCMOA"},{"obs":125,"res":80,"model":"RCMOA"},{"obs":150,"res":60,"model":"RCMOA"},{"obs":170,"res":20,"model":"RCMOA"},{"obs":190,"res":90,"model":"RCMOA"},{"obs":230,"res":110,"model":"RCMOA"},{"obs":250,"res":80,"model":"RCMOA"}
]
},
"concat":[
{"width":216,"height":209,"data":{"name":"fdcA"},
 "transform":[{"fold":["obs","rcsoa","rcmoa"],"as":["series","q"]}],
 "mark":{"type":"line","clip":true},
 "encoding":{
  "x":{"field":"p","type":"quantitative","scale":{"type":"log","domain":[0.01,100],"nice":false},"axis":{"title":"Probability of exceedance","values":[0.01,0.02,0.03,0.04,0.05,0.06,0.07,0.08,0.09,0.1,0.2,0.3,0.4,0.5,0.6,0.7,0.8,0.9,1,2,3,4,5,6,7,8,9,10,20,30,40,50,60,70,80,90,100],"format":"~g","labelExpr":"indexof([0.01,0.1,1,10,100], datum.value) >= 0 ? datum.label : ''","ticks":true,"tickSize":3,"tickColor":"#868686","labelPadding":4,"titleY":25.7}},
  "y":{"field":"q","type":"quantitative","scale":{"domain":[0,5000],"nice":false},"axis":{"title":"Streamflow (m³/s)","values":[0,500,1000,1500,2000,2500,3000,3500,4000,4500,5000],"format":",.0f","labelPadding":9,"titleX":-50}},
  "color":{"field":"series","type":"nominal","scale":{"domain":["obs","rcsoa","rcmoa"],"range":["#a6a6a6","#262626","#000000"]},"legend":{"orient":"top-right","offset":0,"title":"\u00a0","titleOrient":"right","titlePadding":28,"titleFontSize":9,"padding":1,"symbolType":"stroke","symbolSize":225,"symbolOffset":28,"labelFontSize":9,"labelOffset":2,"rowPadding":-1,"labelExpr":"datum.label == 'obs' ? 'Observed flow' : datum.label == 'rcsoa' ? 'Modelled flow: RCSOA' : 'Modelled flow: RCMOA'"}},
  "strokeDash":{"field":"series","type":"nominal","scale":{"domain":["obs","rcsoa","rcmoa"],"range":[[1,0],[1,0],[4,2]]},"legend":{"orient":"top-right","offset":0,"title":"\u00a0","titleOrient":"right","titlePadding":28,"titleFontSize":9,"padding":1,"symbolType":"stroke","symbolSize":225,"symbolOffset":28,"labelFontSize":9,"labelOffset":2,"rowPadding":-1,"labelExpr":"datum.label == 'obs' ? 'Observed flow' : datum.label == 'rcsoa' ? 'Modelled flow: RCSOA' : 'Modelled flow: RCMOA'"}},
  "strokeWidth":{"field":"series","type":"nominal","scale":{"type":"ordinal","domain":["obs","rcsoa","rcmoa"],"range":[2,1,1.5]},"legend":{"orient":"top-right","offset":0,"title":"\u00a0","titleOrient":"right","titlePadding":28,"titleFontSize":9,"padding":1,"symbolType":"stroke","symbolSize":225,"symbolOffset":28,"labelFontSize":9,"labelOffset":2,"rowPadding":-1,"labelExpr":"datum.label == 'obs' ? 'Observed flow' : datum.label == 'rcsoa' ? 'Modelled flow: RCSOA' : 'Modelled flow: RCMOA'"}}
 }},
{"width":217,"height":209,"data":{"name":"fdcA"},
 "title":{"text":"(a)\u00a0 Nam\u00a0 River\u00a0 catchment","orient":"bottom","anchor":"middle","frame":"group","dx":-18,"offset":22,"font":"Liberation Serif","fontSize":21,"fontWeight":"normal","color":"#000000"},
 "transform":[{"fold":["obs","rcsoa","rcmoa"],"as":["series","q"]},{"filter":"datum.q > 0"}],
 "mark":{"type":"line","clip":true},
 "encoding":{
  "x":{"field":"p","type":"quantitative","scale":{"domain":[0,100],"nice":false},"axis":{"title":"Probability of exceedance","values":[0,10,20,30,40,50,60,70,80,90,100],"labelPadding":9,"titleY":26.7}},
  "y":{"field":"q","type":"quantitative","scale":{"type":"log","domain":[0.1,10000],"nice":false},"axis":{"title":"Streamflow (m³/s)","values":[0.1,1,10,100,1000,10000],"format":",.0f","labelPadding":14,"titleX":-52}},
  "color":{"field":"series","type":"nominal","scale":{"domain":["obs","rcsoa","rcmoa"],"range":["#a6a6a6","#262626","#000000"]},"legend":{"orient":"top-right","offset":0,"title":"\u00a0","titleOrient":"right","titlePadding":28,"titleFontSize":9,"padding":1,"symbolType":"stroke","symbolSize":225,"symbolOffset":28,"labelFontSize":9,"labelOffset":2,"rowPadding":-1,"labelExpr":"datum.label == 'obs' ? 'Observed flow' : datum.label == 'rcsoa' ? 'Modelled flow: RCSOA' : 'Modelled flow: RCMOA'"}},
  "strokeDash":{"field":"series","type":"nominal","scale":{"domain":["obs","rcsoa","rcmoa"],"range":[[1,0],[1,0],[4,2]]},"legend":{"orient":"top-right","offset":0,"title":"\u00a0","titleOrient":"right","titlePadding":28,"titleFontSize":9,"padding":1,"symbolType":"stroke","symbolSize":225,"symbolOffset":28,"labelFontSize":9,"labelOffset":2,"rowPadding":-1,"labelExpr":"datum.label == 'obs' ? 'Observed flow' : datum.label == 'rcsoa' ? 'Modelled flow: RCSOA' : 'Modelled flow: RCMOA'"}},
  "strokeWidth":{"field":"series","type":"nominal","scale":{"type":"ordinal","domain":["obs","rcsoa","rcmoa"],"range":[2,1,1.5]},"legend":{"orient":"top-right","offset":0,"title":"\u00a0","titleOrient":"right","titlePadding":28,"titleFontSize":9,"padding":1,"symbolType":"stroke","symbolSize":225,"symbolOffset":28,"labelFontSize":9,"labelOffset":2,"rowPadding":-1,"labelExpr":"datum.label == 'obs' ? 'Observed flow' : datum.label == 'rcsoa' ? 'Modelled flow: RCSOA' : 'Modelled flow: RCMOA'"}}
 }},
{"width":227,"height":230,"data":{"name":"resA"},
 "mark":{"type":"point","filled":false,"strokeWidth":1,"opacity":1,"clip":true},
 "encoding":{
  "x":{"field":"obs","type":"quantitative","scale":{"type":"log","domain":[0.1,10000],"nice":false},"axis":{"title":"Observed flow (m³/s)","values":[0.1,1,10,100,1000,10000],"format":",.0f","offset":-65.71,"labelPadding":9,"titleY":74.7}},
  "y":{"field":"res","type":"quantitative","scale":{"domain":[-1000,2500],"nice":false},"axis":{"title":"Model residuals (m³/s)","values":[-1000,-500,0,500,1000,1500,2000,2500],"format":",.0f","labelExpr":"replace(datum.label, '\u2212', '-')","labelPadding":13,"titleX":-49}},
  "shape":{"field":"model","type":"nominal","scale":{"domain":["RCSOA","RCMOA"],"range":["M-1,-1L1,1M1,-1L-1,1","circle"]},"legend":{"orient":"top-left","offset":2,"direction":"horizontal","title":null,"padding":11,"symbolOffset":10,"labelFontSize":10,"labelOffset":3,"columnPadding":10}},
  "color":{"field":"model","type":"nominal","scale":{"domain":["RCSOA","RCMOA"],"range":["#ff4040","#000000"]},"legend":{"orient":"top-left","offset":2,"direction":"horizontal","title":null,"padding":11,"symbolOffset":10,"labelFontSize":10,"labelOffset":3,"columnPadding":10}},
  "size":{"field":"model","type":"nominal","scale":{"type":"ordinal","domain":["RCSOA","RCMOA"],"range":[16,3]},"legend":{"orient":"top-left","offset":2,"direction":"horizontal","title":null,"padding":11,"symbolOffset":10,"labelFontSize":10,"labelOffset":3,"columnPadding":10}}
 }},
{"width":216,"height":209,"data":{"name":"fdcB"},
 "transform":[{"fold":["obs","rcsoa","rcmoa"],"as":["series","q"]}],
 "mark":{"type":"line","clip":true},
 "encoding":{
  "x":{"field":"p","type":"quantitative","scale":{"type":"log","domain":[0.01,100],"nice":false},"axis":{"title":"Probability of exceedance","values":[0.01,0.02,0.03,0.04,0.05,0.06,0.07,0.08,0.09,0.1,0.2,0.3,0.4,0.5,0.6,0.7,0.8,0.9,1,2,3,4,5,6,7,8,9,10,20,30,40,50,60,70,80,90,100],"format":"~g","labelExpr":"indexof([0.01,0.1,1,10,100], datum.value) >= 0 ? datum.label : ''","ticks":true,"tickSize":3,"tickColor":"#868686","labelPadding":7,"titleY":33.7}},
  "y":{"field":"q","type":"quantitative","scale":{"domain":[0,1600],"nice":false},"axis":{"title":"Streamflow (m³/s)","values":[0,200,400,600,800,1000,1200,1400,1600],"format":",.0f","labelPadding":9,"titleX":-50}},
  "color":{"field":"series","type":"nominal","scale":{"domain":["obs","rcsoa","rcmoa"],"range":["#a6a6a6","#262626","#000000"]},"legend":{"orient":"top-right","offset":0,"title":"\u00a0","titleOrient":"right","titlePadding":28,"titleFontSize":9,"padding":1,"symbolType":"stroke","symbolSize":225,"symbolOffset":28,"labelFontSize":9,"labelOffset":2,"rowPadding":-1,"labelExpr":"datum.label == 'obs' ? 'Observed flow' : datum.label == 'rcsoa' ? 'Modelled flow: RCSOA' : 'Modelled flow: RCMOA'"}},
  "strokeDash":{"field":"series","type":"nominal","scale":{"domain":["obs","rcsoa","rcmoa"],"range":[[1,0],[1,0],[4,2]]},"legend":{"orient":"top-right","offset":0,"title":"\u00a0","titleOrient":"right","titlePadding":28,"titleFontSize":9,"padding":1,"symbolType":"stroke","symbolSize":225,"symbolOffset":28,"labelFontSize":9,"labelOffset":2,"rowPadding":-1,"labelExpr":"datum.label == 'obs' ? 'Observed flow' : datum.label == 'rcsoa' ? 'Modelled flow: RCSOA' : 'Modelled flow: RCMOA'"}},
  "strokeWidth":{"field":"series","type":"nominal","scale":{"type":"ordinal","domain":["obs","rcsoa","rcmoa"],"range":[2,1,1.5]},"legend":{"orient":"top-right","offset":0,"title":"\u00a0","titleOrient":"right","titlePadding":28,"titleFontSize":9,"padding":1,"symbolType":"stroke","symbolSize":225,"symbolOffset":28,"labelFontSize":9,"labelOffset":2,"rowPadding":-1,"labelExpr":"datum.label == 'obs' ? 'Observed flow' : datum.label == 'rcsoa' ? 'Modelled flow: RCSOA' : 'Modelled flow: RCMOA'"}}
 }},
{"width":217,"height":209,"data":{"name":"fdcB"},
 "title":{"text":"(b)\u00a0 Seomjin\u00a0 River\u00a0 catchment","orient":"bottom","anchor":"middle","frame":"group","dx":-10,"offset":15,"font":"Liberation Serif","fontSize":21,"fontWeight":"normal","color":"#000000"},
 "transform":[{"fold":["obs","rcsoa","rcmoa"],"as":["series","q"]},{"filter":"datum.q > 0"}],
 "mark":{"type":"line","clip":true},
 "encoding":{
  "x":{"field":"p","type":"quantitative","scale":{"domain":[0,100],"nice":false},"axis":{"title":"Probability of exceedance","values":[0,10,20,30,40,50,60,70,80,90,100],"labelPadding":10,"titleY":33.7}},
  "y":{"field":"q","type":"quantitative","scale":{"type":"log","domain":[0.1,10000],"nice":false},"axis":{"title":"Streamflow (m³/s)","values":[0.1,1,10,100,1000,10000],"format":",.0f","labelPadding":14,"titleX":-52}},
  "color":{"field":"series","type":"nominal","scale":{"domain":["obs","rcsoa","rcmoa"],"range":["#a6a6a6","#262626","#000000"]},"legend":{"orient":"top-right","offset":0,"title":"\u00a0","titleOrient":"right","titlePadding":28,"titleFontSize":9,"padding":1,"symbolType":"stroke","symbolSize":225,"symbolOffset":28,"labelFontSize":9,"labelOffset":2,"rowPadding":-1,"labelExpr":"datum.label == 'obs' ? 'Observed flow' : datum.label == 'rcsoa' ? 'Modelled flow: RCSOA' : 'Modelled flow: RCMOA'"}},
  "strokeDash":{"field":"series","type":"nominal","scale":{"domain":["obs","rcsoa","rcmoa"],"range":[[1,0],[1,0],[4,2]]},"legend":{"orient":"top-right","offset":0,"title":"\u00a0","titleOrient":"right","titlePadding":28,"titleFontSize":9,"padding":1,"symbolType":"stroke","symbolSize":225,"symbolOffset":28,"labelFontSize":9,"labelOffset":2,"rowPadding":-1,"labelExpr":"datum.label == 'obs' ? 'Observed flow' : datum.label == 'rcsoa' ? 'Modelled flow: RCSOA' : 'Modelled flow: RCMOA'"}},
  "strokeWidth":{"field":"series","type":"nominal","scale":{"type":"ordinal","domain":["obs","rcsoa","rcmoa"],"range":[2,1,1.5]},"legend":{"orient":"top-right","offset":0,"title":"\u00a0","titleOrient":"right","titlePadding":28,"titleFontSize":9,"padding":1,"symbolType":"stroke","symbolSize":225,"symbolOffset":28,"labelFontSize":9,"labelOffset":2,"rowPadding":-1,"labelExpr":"datum.label == 'obs' ? 'Observed flow' : datum.label == 'rcsoa' ? 'Modelled flow: RCSOA' : 'Modelled flow: RCMOA'"}}
 }},
{"width":227,"height":230,"data":{"name":"resB"},
 "mark":{"type":"point","filled":false,"strokeWidth":1,"opacity":1,"clip":true},
 "encoding":{
  "x":{"field":"obs","type":"quantitative","scale":{"type":"log","domain":[0.1,10000],"nice":false},"axis":{"title":"Observed flow (m³/s)","values":[0.1,1,10,100,1000,10000],"format":",.0f","offset":-76.67,"labelPadding":9,"titleY":90.7}},
  "y":{"field":"res","type":"quantitative","scale":{"domain":[-400,800],"nice":false},"axis":{"title":"Model residuals (m³/s)","values":[-400,-200,0,200,400,600,800],"format":",.0f","labelExpr":"replace(datum.label, '\u2212', '-')","labelPadding":13,"titleX":-49}},
  "shape":{"field":"model","type":"nominal","scale":{"domain":["RCSOA","RCMOA"],"range":["M-1,-1L1,1M1,-1L-1,1","circle"]},"legend":{"orient":"top-left","offset":2,"direction":"horizontal","title":null,"padding":11,"symbolOffset":10,"labelFontSize":10,"labelOffset":3,"columnPadding":10}},
  "color":{"field":"model","type":"nominal","scale":{"domain":["RCSOA","RCMOA"],"range":["#ff4040","#000000"]},"legend":{"orient":"top-left","offset":2,"direction":"horizontal","title":null,"padding":11,"symbolOffset":10,"labelFontSize":10,"labelOffset":3,"columnPadding":10}},
  "size":{"field":"model","type":"nominal","scale":{"type":"ordinal","domain":["RCSOA","RCMOA"],"range":[16,3]},"legend":{"orient":"top-left","offset":2,"direction":"horizontal","title":null,"padding":11,"symbolOffset":10,"labelFontSize":10,"labelOffset":3,"columnPadding":10}}
 }},
{"width":216,"height":209,"data":{"name":"fdcC"},
 "transform":[{"fold":["obs","rcsoa","rcmoa"],"as":["series","q"]}],
 "mark":{"type":"line","clip":true},
 "encoding":{
  "x":{"field":"p","type":"quantitative","scale":{"type":"log","domain":[0.01,100],"nice":false},"axis":{"title":"Probability of exceedance","values":[0.01,0.02,0.03,0.04,0.05,0.06,0.07,0.08,0.09,0.1,0.2,0.3,0.4,0.5,0.6,0.7,0.8,0.9,1,2,3,4,5,6,7,8,9,10,20,30,40,50,60,70,80,90,100],"format":"~g","labelExpr":"indexof([0.01,0.1,1,10,100], datum.value) >= 0 ? datum.label : ''","ticks":true,"tickSize":3,"tickColor":"#868686","labelPadding":9,"titleY":35}},
  "y":{"field":"q","type":"quantitative","scale":{"domain":[0,800],"nice":false},"axis":{"title":"Streamflow (m³/s)","values":[0,100,200,300,400,500,600,700,800],"format":",.0f","labelPadding":9,"titleX":-50}},
  "color":{"field":"series","type":"nominal","scale":{"domain":["obs","rcsoa","rcmoa"],"range":["#a6a6a6","#262626","#000000"]},"legend":{"orient":"top-right","offset":0,"title":"\u00a0","titleOrient":"right","titlePadding":28,"titleFontSize":9,"padding":1,"symbolType":"stroke","symbolSize":225,"symbolOffset":28,"labelFontSize":9,"labelOffset":2,"rowPadding":-1,"labelExpr":"datum.label == 'obs' ? 'Observed flow' : datum.label == 'rcsoa' ? 'Modelled flow: RCSOA' : 'Modelled flow: RCMOA'"}},
  "strokeDash":{"field":"series","type":"nominal","scale":{"domain":["obs","rcsoa","rcmoa"],"range":[[1,0],[1,0],[4,2]]},"legend":{"orient":"top-right","offset":0,"title":"\u00a0","titleOrient":"right","titlePadding":28,"titleFontSize":9,"padding":1,"symbolType":"stroke","symbolSize":225,"symbolOffset":28,"labelFontSize":9,"labelOffset":2,"rowPadding":-1,"labelExpr":"datum.label == 'obs' ? 'Observed flow' : datum.label == 'rcsoa' ? 'Modelled flow: RCSOA' : 'Modelled flow: RCMOA'"}},
  "strokeWidth":{"field":"series","type":"nominal","scale":{"type":"ordinal","domain":["obs","rcsoa","rcmoa"],"range":[2,1,1.5]},"legend":{"orient":"top-right","offset":0,"title":"\u00a0","titleOrient":"right","titlePadding":28,"titleFontSize":9,"padding":1,"symbolType":"stroke","symbolSize":225,"symbolOffset":28,"labelFontSize":9,"labelOffset":2,"rowPadding":-1,"labelExpr":"datum.label == 'obs' ? 'Observed flow' : datum.label == 'rcsoa' ? 'Modelled flow: RCSOA' : 'Modelled flow: RCMOA'"}}
 }},
{"width":217,"height":209,"data":{"name":"fdcC"},
 "title":{"text":"(c)\u00a0 Unmun\u00a0 catchment","orient":"bottom","anchor":"middle","frame":"group","dx":-17,"offset":19,"font":"Liberation Serif","fontSize":21,"fontWeight":"normal","color":"#000000"},
 "transform":[{"fold":["obs","rcsoa","rcmoa"],"as":["series","q"]},{"filter":"datum.q > 0"}],
 "mark":{"type":"line","clip":true},
 "encoding":{
  "x":{"field":"p","type":"quantitative","scale":{"domain":[0,100],"nice":false},"axis":{"title":"Probability of exceedance","values":[0,10,20,30,40,50,60,70,80,90,100],"labelPadding":10,"titleY":31.3}},
  "y":{"field":"q","type":"quantitative","scale":{"type":"log","domain":[0.1,1000],"nice":false},"axis":{"title":"Streamflow (m³/s)","values":[0.1,1,10,100,1000],"format":",.0f","labelPadding":14,"titleX":-52}},
  "color":{"field":"series","type":"nominal","scale":{"domain":["obs","rcsoa","rcmoa"],"range":["#a6a6a6","#262626","#000000"]},"legend":{"orient":"top-right","offset":0,"title":"\u00a0","titleOrient":"right","titlePadding":28,"titleFontSize":9,"padding":1,"symbolType":"stroke","symbolSize":225,"symbolOffset":28,"labelFontSize":9,"labelOffset":2,"rowPadding":-1,"labelExpr":"datum.label == 'obs' ? 'Observed flow' : datum.label == 'rcsoa' ? 'Modelled flow: RCSOA' : 'Modelled flow: RCMOA'"}},
  "strokeDash":{"field":"series","type":"nominal","scale":{"domain":["obs","rcsoa","rcmoa"],"range":[[1,0],[1,0],[4,2]]},"legend":{"orient":"top-right","offset":0,"title":"\u00a0","titleOrient":"right","titlePadding":28,"titleFontSize":9,"padding":1,"symbolType":"stroke","symbolSize":225,"symbolOffset":28,"labelFontSize":9,"labelOffset":2,"rowPadding":-1,"labelExpr":"datum.label == 'obs' ? 'Observed flow' : datum.label == 'rcsoa' ? 'Modelled flow: RCSOA' : 'Modelled flow: RCMOA'"}},
  "strokeWidth":{"field":"series","type":"nominal","scale":{"type":"ordinal","domain":["obs","rcsoa","rcmoa"],"range":[2,1,1.5]},"legend":{"orient":"top-right","offset":0,"title":"\u00a0","titleOrient":"right","titlePadding":28,"titleFontSize":9,"padding":1,"symbolType":"stroke","symbolSize":225,"symbolOffset":28,"labelFontSize":9,"labelOffset":2,"rowPadding":-1,"labelExpr":"datum.label == 'obs' ? 'Observed flow' : datum.label == 'rcsoa' ? 'Modelled flow: RCSOA' : 'Modelled flow: RCMOA'"}}
 }},
{"width":227,"height":230,"data":{"name":"resC"},
 "mark":{"type":"point","filled":false,"strokeWidth":1,"opacity":1,"clip":true},
 "encoding":{
  "x":{"field":"obs","type":"quantitative","scale":{"type":"log","domain":[0.1,1000],"nice":false},"axis":{"title":"Observed flow (m³/s)","values":[0.1,1,10,100,1000],"format":",.0f","offset":-38.33,"labelPadding":9,"titleY":48.3}},
  "y":{"field":"res","type":"quantitative","scale":{"domain":[-100,500],"nice":false},"axis":{"title":"Model residuals (m³/s)","values":[-100,0,100,200,300,400,500],"format":",.0f","labelExpr":"replace(datum.label, '\u2212', '-')","labelPadding":13,"titleX":-49}},
  "shape":{"field":"model","type":"nominal","scale":{"domain":["RCSOA","RCMOA"],"range":["M-1,-1L1,1M1,-1L-1,1","circle"]},"legend":{"orient":"top-left","offset":2,"direction":"horizontal","title":null,"padding":11,"symbolOffset":10,"labelFontSize":10,"labelOffset":3,"columnPadding":10}},
  "color":{"field":"model","type":"nominal","scale":{"domain":["RCSOA","RCMOA"],"range":["#ff4040","#000000"]},"legend":{"orient":"top-left","offset":2,"direction":"horizontal","title":null,"padding":11,"symbolOffset":10,"labelFontSize":10,"labelOffset":3,"columnPadding":10}},
  "size":{"field":"model","type":"nominal","scale":{"type":"ordinal","domain":["RCSOA","RCMOA"],"range":[16,3]},"legend":{"orient":"top-left","offset":2,"direction":"horizontal","title":null,"padding":11,"symbolOffset":10,"labelFontSize":10,"labelOffset":3,"columnPadding":10}}
 }}
],
"config":{
 "font":"Lato",
 "view":{"stroke":null},
 "axis":{"labelFont":"Lato","labelFontSize":10,"labelColor":"#262626","titleFont":"Lato","titleFontSize":11,"titleFontWeight":"bold","titleColor":"#262626","gridColor":"#d9d9d9","gridWidth":1,"domainColor":"#868686","domainWidth":1,"ticks":false,"labelFlush":false,"labelOverlap":false,"titleBaseline":"middle"},
 "axisX":{"grid":false},
 "axisY":{"grid":true},
 "legend":{"labelFont":"Lato","labelColor":"#262626","fillColor":"#ffffff","strokeColor":"#bfbfbf","titleFont":"Lato"}
}
}
